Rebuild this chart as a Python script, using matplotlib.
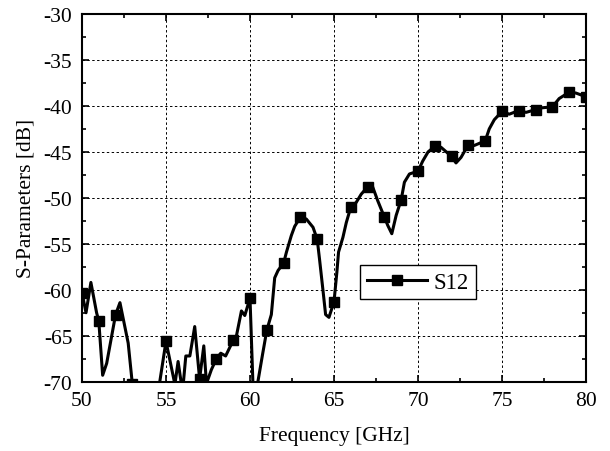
import numpy as np
import matplotlib
matplotlib.use("Agg")
import matplotlib.pyplot as plt
from matplotlib.ticker import MultipleLocator
from matplotlib.lines import Line2D

''' Data read off the reference '''
# measured trace (dense)
freq_line = [50.0, 50.24, 50.53, 50.87, 51.0, 51.23, 51.47, 52.0, 52.26, 52.75,
             53.0, 53.3, 54.0, 54.3, 54.63, 55.0, 55.53, 55.72, 55.92, 56.0,
             56.18, 56.42, 56.71, 57.0, 57.25, 57.41, 57.7, 58.0, 58.26, 58.55,
             59.0, 59.15, 59.49, 59.69, 60.0, 60.18, 60.33, 60.47, 60.75, 61.0,
             61.27, 61.47, 61.67, 62.0, 62.17, 62.46, 62.66, 63.0, 63.35, 63.75,
             64.0, 64.14, 64.34, 64.5, 64.7, 65.0, 65.17, 65.27, 65.53, 65.73,
             66.0, 66.32, 66.62, 67.0, 67.3, 67.6, 68.0, 68.2, 68.44, 68.7,
             69.0, 69.19, 69.49, 70.0, 70.28, 70.6, 71.0, 71.37, 72.0, 72.26,
             72.56, 73.0, 73.35, 74.0, 74.24, 74.54, 75.0, 75.43, 76.0, 76.43,
             77.0, 77.4, 78.0, 78.4, 79.0, 79.4, 80.0]
s12_line = [-60.3, -62.5, -59.2, -62.5, -63.4, -69.3, -68.0, -62.7, -61.4, -65.8,
            -70.3, -74.0, -74.0, -74.0, -70.0, -65.6, -70.3, -67.8, -70.3, -70.8,
            -67.2, -67.2, -64.0, -69.7, -66.1, -70.2, -68.7, -67.5, -66.9, -67.2,
            -65.5, -65.4, -62.3, -62.8, -60.9, -70.5, -72.0, -70.0, -67.0, -64.4,
            -62.7, -58.7, -57.9, -57.1, -55.9, -54.1, -53.1, -52.1, -52.3, -53.2,
            -54.5, -56.7, -60.0, -62.7, -63.0, -61.3, -58.1, -55.9, -54.3, -52.7,
            -51.0, -50.5, -49.6, -48.8, -48.8, -50.3, -52.1, -53.0, -53.9, -51.9,
            -50.2, -48.3, -47.4, -47.1, -46.0, -45.0, -44.4, -44.5, -45.5, -46.2,
            -45.6, -44.2, -44.3, -43.8, -42.5, -41.5, -40.6, -40.9, -40.5, -40.7,
            -40.4, -40.2, -40.1, -39.2, -38.5, -38.6, -39.0]

# marker points (every 1 GHz)
freq_mark = [50, 51, 52, 53, 54, 55, 56, 57, 58, 59, 60, 61, 62, 63, 64, 65,
             66, 67, 68, 69, 70, 71, 72, 73, 74, 75, 76, 77, 78, 79, 80]
s12_mark = [-60.3, -63.4, -62.7, -70.3, -74.0, -65.6, -70.8, -69.7, -67.5, -65.5,
            -60.9, -64.4, -57.1, -52.1, -54.5, -61.3, -51.0, -48.8, -52.1, -50.2,
            -47.1, -44.4, -45.5, -44.2, -43.8, -40.6, -40.5, -40.4, -40.1, -38.5,
            -39.0]

plt.rcParams['font.family'] = ['Liberation Serif', 'DejaVu Serif']
plt.rcParams['axes.unicode_minus'] = False

fig = plt.figure(figsize=(6.10, 4.52), dpi=100)
ax = fig.add_axes([0.1344, 0.1533, 0.8263, 0.8135])

''' Curve + markers '''
ax.plot(freq_line, s12_line, color='black', lw=2.2, zorder=3)
ax.plot(freq_mark, s12_mark, ls='none', marker='s', ms=7.2, color='black', zorder=4)

ax.set_xlim(50, 80)
ax.set_ylim(-70, -30)
ax.xaxis.set_major_locator(MultipleLocator(5))
ax.xaxis.set_minor_locator(MultipleLocator(2.5))
ax.yaxis.set_major_locator(MultipleLocator(5))
ax.yaxis.set_minor_locator(MultipleLocator(2.5))

ax.grid(True, which='major', color='black', ls=(0, (2.5, 2.5)), lw=0.7)
ax.tick_params(which='both', direction='in', top=True, right=True,
               labelsize=15.5, width=1.2, colors='black')
ax.tick_params(which='major', length=5, pad=7)
ax.tick_params(which='minor', length=3.2)
for s in ax.spines.values():
    s.set_linewidth(1.5)

ax.set_xlabel("Frequency [GHz]", fontsize=15.5, labelpad=11)
ax.set_ylabel("S-Parameters [dB]", fontsize=15.5, labelpad=6)

''' Legend '''
handle = Line2D([], [], color='black', lw=2.2, marker='s', ms=7.2)
leg = ax.legend([handle], ["S12"], loc='center', bbox_to_anchor=(0.667, 0.271),
                fontsize=16.5, frameon=True, fancybox=False, framealpha=1,
                edgecolor='black', handlelength=2.6, borderpad=0.3,
                handletextpad=0.3, borderaxespad=0)
leg.get_frame().set_linewidth(1.0)

fig.savefig("out.png", dpi=100)
